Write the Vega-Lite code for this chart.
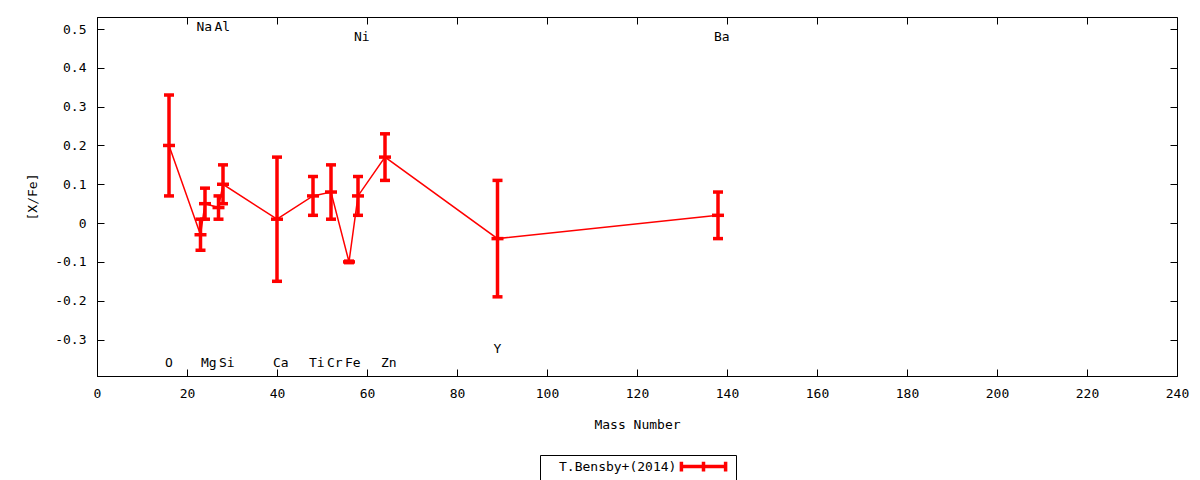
{
  "$schema": "https://vega.github.io/schema/vega-lite/v6.json",
  "width": 1080,
  "height": 359,
  "autosize": {"type": "none"},
  "padding": {"left": 97, "top": 17, "right": 23, "bottom": 104},
  "background": "white",
  "config": {
    "font": "DejaVu Sans Mono",
    "view": {"stroke": "black", "strokeWidth": 1},
    "axis": {
      "grid": false,
      "domainColor": "black",
      "tickColor": "black",
      "tickSize": -7,
      "labelFlush": false,
      "labelOverlap": false,
      "labelColor": "black",
      "labelFontSize": 13,
      "titleFontSize": 13,
      "titleFontWeight": "normal",
      "titleColor": "black",
      "labelFont": "DejaVu Sans Mono",
      "titleFont": "DejaVu Sans Mono"
    }
  },
  "datasets": {
    "abund": [
      {"el": "O", "A": 16, "v": 0.20, "lo": 0.07, "hi": 0.33},
      {"el": "Na", "A": 23, "v": -0.03, "lo": -0.07, "hi": 0.01},
      {"el": "Mg", "A": 24, "v": 0.05, "lo": 0.01, "hi": 0.09},
      {"el": "Al", "A": 27, "v": 0.04, "lo": 0.01, "hi": 0.07},
      {"el": "Si", "A": 28, "v": 0.10, "lo": 0.05, "hi": 0.15},
      {"el": "Ca", "A": 40, "v": 0.01, "lo": -0.15, "hi": 0.17},
      {"el": "Ti", "A": 48, "v": 0.07, "lo": 0.02, "hi": 0.12},
      {"el": "Cr", "A": 52, "v": 0.08, "lo": 0.01, "hi": 0.15},
      {"el": "Fe", "A": 56, "v": -0.10, "lo": -0.102, "hi": -0.098},
      {"el": "Ni", "A": 58, "v": 0.07, "lo": 0.02, "hi": 0.12},
      {"el": "Zn", "A": 64, "v": 0.17, "lo": 0.11, "hi": 0.23},
      {"el": "Y", "A": 89, "v": -0.04, "lo": -0.19, "hi": 0.11},
      {"el": "Ba", "A": 138, "v": 0.02, "lo": -0.04, "hi": 0.08}
    ],
    "labels": [
      {"el": "O", "A": 16, "ly": -0.361},
      {"el": "Na", "A": 23, "ly": 0.505},
      {"el": "Mg", "A": 24, "ly": -0.361},
      {"el": "Al", "A": 27, "ly": 0.505},
      {"el": "Si", "A": 28, "ly": -0.361},
      {"el": "Ca", "A": 40, "ly": -0.361},
      {"el": "Ti", "A": 48, "ly": -0.361},
      {"el": "Cr", "A": 52, "ly": -0.361},
      {"el": "Fe", "A": 56, "ly": -0.361},
      {"el": "Ni", "A": 58, "ly": 0.479},
      {"el": "Zn", "A": 64, "ly": -0.361},
      {"el": "Y", "A": 89, "ly": -0.325},
      {"el": "Ba", "A": 138, "ly": 0.479}
    ]
  },
  "resolve": {"axis": {"x": "independent", "y": "independent"}},
  "layer": [
    {
      "data": {"name": "abund"},
      "mark": {"type": "line", "color": "red", "strokeWidth": 1.5},
      "encoding": {
        "x": {"field": "A", "type": "quantitative", "scale": {"domain": [0, 240], "nice": false},
          "axis": {"title": "Mass Number", "values": [0, 20, 40, 60, 80, 100, 120, 140, 160, 180, 200, 220, 240], "labelPadding": 18, "titlePadding": 18}},
        "y": {"field": "v", "type": "quantitative", "scale": {"domain": [-0.394, 0.531], "nice": false, "zero": false},
          "axis": {"title": "[X/Fe]", "values": [-0.3, -0.2, -0.1, 0, 0.1, 0.2, 0.3, 0.4, 0.5], "labelExpr": "replace(format(datum.value, '.1~f'), '\u2212', '-')", "labelPadding": 18, "titlePadding": 15}},
        "color": {"datum": "T.Bensby+(2014)", "scale": {"range": ["red"]},
          "legend": {"title": null, "orient": "none", "legendX": 443, "legendY": 438, "strokeColor": "black", "padding": 3,
            "labelFontSize": 13, "labelColor": "black", "labelFont": "DejaVu Sans Mono",
            "labelOffset": -153, "symbolOffset": 152,
            "symbolType": "M-3.4,0H3.4M-3.4,-0.75V0.75M3.4,-0.75V0.75M0,-0.75V0.75", "symbolSize": 169, "symbolStrokeWidth": 3.5, "symbolStrokeColor": "red", "symbolFillColor": "transparent"}}
      }
    },
    {
      "data": {"name": "abund"},
      "mark": {"type": "rule", "color": "red", "strokeWidth": 3.5},
      "encoding": {
        "x": {"field": "A", "type": "quantitative", "scale": {"domain": [0, 240], "nice": false}, "axis": null},
        "y": {"field": "lo", "type": "quantitative", "scale": {"domain": [-0.394, 0.531], "nice": false, "zero": false}, "axis": null},
        "y2": {"field": "hi"}
      }
    },
    {
      "data": {"name": "abund"},
      "mark": {"type": "tick", "orient": "horizontal", "color": "red", "size": 10, "thickness": 3.5, "opacity": 1},
      "encoding": {
        "x": {"field": "A", "type": "quantitative", "scale": {"domain": [0, 240], "nice": false}, "axis": null},
        "y": {"field": "lo", "type": "quantitative", "scale": {"domain": [-0.394, 0.531], "nice": false, "zero": false}, "axis": null}
      }
    },
    {
      "data": {"name": "abund"},
      "mark": {"type": "tick", "orient": "horizontal", "color": "red", "size": 10, "thickness": 3.5, "opacity": 1},
      "encoding": {
        "x": {"field": "A", "type": "quantitative", "scale": {"domain": [0, 240], "nice": false}, "axis": null},
        "y": {"field": "hi", "type": "quantitative", "scale": {"domain": [-0.394, 0.531], "nice": false, "zero": false}, "axis": null}
      }
    },
    {
      "data": {"name": "abund"},
      "mark": {"type": "tick", "orient": "horizontal", "color": "red", "size": 12, "thickness": 3.5, "opacity": 1},
      "encoding": {
        "x": {"field": "A", "type": "quantitative", "scale": {"domain": [0, 240], "nice": false},
          "axis": {"orient": "top", "labels": false, "title": null, "domain": false, "values": [0, 20, 40, 60, 80, 100, 120, 140, 160, 180, 200, 220, 240]}},
        "y": {"field": "v", "type": "quantitative", "scale": {"domain": [-0.394, 0.531], "nice": false, "zero": false},
          "axis": {"orient": "right", "labels": false, "title": null, "domain": false, "values": [-0.3, -0.2, -0.1, 0, 0.1, 0.2, 0.3, 0.4, 0.5]}}
      }
    },
    {
      "data": {"name": "labels"},
      "mark": {"type": "text", "align": "left", "baseline": "middle", "dx": -4, "fontSize": 13, "color": "black", "font": "DejaVu Sans Mono"},
      "encoding": {
        "x": {"field": "A", "type": "quantitative", "scale": {"domain": [0, 240], "nice": false}, "axis": null},
        "y": {"field": "ly", "type": "quantitative", "scale": {"domain": [-0.394, 0.531], "nice": false, "zero": false}, "axis": null},
        "text": {"field": "el"}
      }
    }
  ]
}
